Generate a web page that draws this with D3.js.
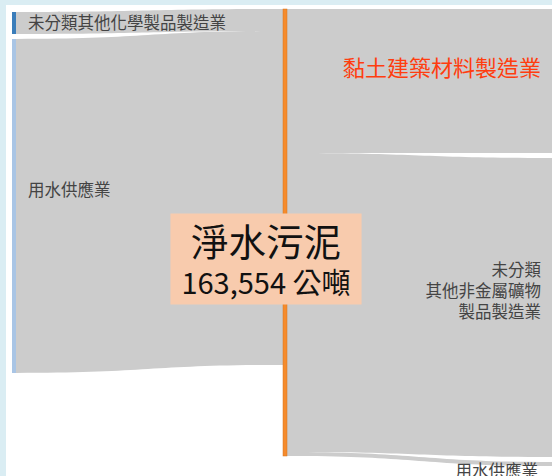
<!DOCTYPE html>
<html>
<head>
<meta charset="utf-8">
<script src="https://cdn.jsdelivr.net/npm/d3@7"></script>
<style>
  body { margin: 0; background: #daedf3; }
  svg { display: block; font-family: "Noto Sans CJK TC", "Noto Sans", sans-serif; }
</style>
</head>
<body>
<div id="chart"></div>
<script>
// data (tonnes)
var sourceNames = ["未分類其他化學製品製造業", "用水供應業"];
var sourceValues = [8050, 122200];
var hubName = "淨水污泥";
var hubTotal = 163554;
var unitLabel = "公噸";
var targetNames = ["黏土建築材料製造業", "未分類其他非金屬礦物製品製造業", "用水供應業"];
var targetValues = [52700, 109400, 1454];
var targetLabelLines = [["黏土建築材料製造業"], ["未分類", "其他非金屬礦物", "製品製造業"], ["用水供應業"]];

var width = 552, height = 476;
var nodeW = 4, pad = 5;
var colTop = [12, 9, 9];

var svg = d3.select("#chart").append("svg")
    .attr("width", width)
    .attr("height", height);

// white panel
svg.append("rect")
    .attr("x", 6).attr("y", 5)
    .attr("width", width - 6).attr("height", height - 5)
    .attr("fill", "#ffffff");

var k = d3.scaleLinear().domain([0, hubTotal]).range([0, 447]);
var colX = d3.scaleLinear().domain([0, 2]).range([12, 554]);

function stack(values, col) {
    var y = colTop[col];
    return values.map(function(v) {
        var n = { x0: colX(col), x1: colX(col) + nodeW, y0: y, y1: y + k(v), value: v };
        y = n.y1 + pad;
        return n;
    });
}

var sources = stack(sourceValues, 0);
var targets = stack(targetValues, 2);
var hubValue = Math.max(d3.sum(sourceValues), d3.sum(targetValues));
var hub = stack([hubValue], 1)[0];

// links
var links = [];
var cursor = hub.y0;
sources.forEach(function(s) {
    links.push({ x0: s.x1, x1: hub.x0, a0: s.y0, a1: s.y1, b0: cursor, b1: cursor + (s.y1 - s.y0) });
    cursor += s.y1 - s.y0;
});
cursor = hub.y0;
targets.forEach(function(t) {
    links.push({ x0: hub.x1, x1: t.x0, a0: cursor, a1: cursor + (t.y1 - t.y0), b0: t.y0, b1: t.y1 });
    cursor += t.y1 - t.y0;
});

function band(d) {
    var xm = (d.x0 + d.x1) / 2;
    return "M" + d.x0 + "," + d.a0 +
        "C" + xm + "," + d.a0 + " " + xm + "," + d.b0 + " " + d.x1 + "," + d.b0 +
        "L" + d.x1 + "," + d.b1 +
        "C" + xm + "," + d.b1 + " " + xm + "," + d.a1 + " " + d.x0 + "," + d.a1 + "Z";
}

svg.append("g").selectAll("path")
    .data(links)
    .enter().append("path")
    .attr("d", band)
    .attr("fill", "#cccccc");

// nodes
var sourceColor = d3.scaleOrdinal().domain(sourceNames).range(["#3a7dba", "#a9c5e5"]);
svg.append("g").selectAll("rect")
    .data(sources)
    .enter().append("rect")
    .attr("x", function(d) { return d.x0; })
    .attr("y", function(d) { return d.y0; })
    .attr("width", nodeW)
    .attr("height", function(d) { return d.y1 - d.y0; })
    .attr("fill", function(d, i) { return sourceColor(sourceNames[i]); });

svg.append("rect")
    .attr("x", hub.x0).attr("y", hub.y0)
    .attr("width", nodeW).attr("height", hub.y1 - hub.y0)
    .attr("fill", "#f58b2c")
    .attr("stroke", "#d8741e")
    .attr("stroke-width", 0.5);

// source labels
svg.append("g").selectAll("text")
    .data(sources)
    .enter().append("text")
    .attr("x", function(d) { return d.x1 + 12; })
    .attr("y", function(d) { return d.y0 + 0.45 * (d.y1 - d.y0) + 1; })
    .attr("dy", "0.35em")
    .attr("font-size", 16.5)
    .attr("fill", "#444444")
    .text(function(d, i) { return sourceNames[i]; });

// target labels
var tl = svg.append("g").selectAll("text")
    .data(targets)
    .enter().append("text")
    .attr("text-anchor", "end")
    .attr("font-size", function(d, i) { return i === 0 ? 22 : 16.5; })
    .attr("fill", function(d, i) { return i === 0 ? "#ff3d0f" : "#444444"; })
    .attr("transform", function(d, i) {
        var h = d.y1 - d.y0;
        var lines = targetLabelLines[i].length;
        var y = h < 10 ? d.y1 + 5 : d.y0 + 0.48 * h - 10 - (lines - 1) * 10.5;
        var x = h < 10 ? d.x0 - 16 : d.x0 - 13;
        return "translate(" + x + "," + y + ")";
    });
tl.selectAll("tspan")
    .data(function(d, i) { return targetLabelLines[i]; })
    .enter().append("tspan")
    .attr("x", 0)
    .attr("y", function(d, j) { return j * 21; })
    .attr("dy", "0.35em")
    .text(function(d) { return d; });

// hub label box
var hubCx = (hub.x0 + hub.x1) / 2 - 19;
var hubCy = (hub.y0 + hub.y1) / 2 + 27;
var hubG = svg.append("g");
var box = hubG.append("rect")
    .attr("fill", "#f8cbad");
var t1 = hubG.append("text")
    .attr("x", hubCx).attr("y", hubCy - 17)
    .attr("dy", "0.35em")
    .attr("text-anchor", "middle")
    .attr("font-size", 37.5)
    .attr("fill", "#111111")
    .text(hubName);
var t2 = hubG.append("text")
    .attr("x", hubCx).attr("y", hubCy + 24)
    .attr("dy", "0.35em")
    .attr("text-anchor", "middle")
    .attr("font-size", 29)
    .attr("fill", "#111111")
    .text(d3.format(",")(hubTotal) + " " + unitLabel);
var boxW = Math.max(t1.node().getComputedTextLength(), t2.node().getComputedTextLength()) + 22;
box.attr("x", hubCx - boxW / 2)
    .attr("y", hubCy - 46)
    .attr("width", boxW)
    .attr("height", 91);
</script>
</body>
</html>
